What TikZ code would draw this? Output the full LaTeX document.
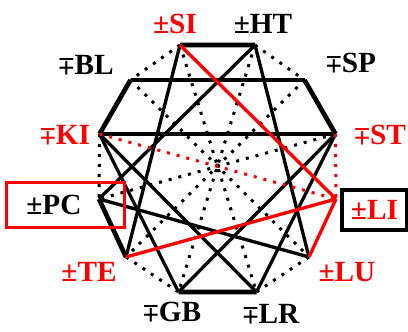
\documentclass[tikz,border=0pt]{standalone}
\usepackage{fontspec}
\setmainfont{Liberation Serif}
\usepackage{graphicx}
\newcommand{\mpsgn}{\raisebox{\depth}{\scalebox{1}[-1]{±}}}

\begin{document}
\begin{tikzpicture}[
  x=0.3mm, y=-0.3mm,
  lbl/.style={
    font=\fontsize{25}{28}\selectfont\bfseries,
    inner sep=0pt},
  redlbl/.style={lbl, text=red},
  pair/.style={line width=1.4mm},
  chord/.style={line width=1.0mm},
  link/.style={
    line width=0.9mm,
    dash pattern=on 0.9mm off 2.1mm},
  hilite/.style={chord, red},
  hidot/.style={link, red}
]
\useasboundingbox (0,0) rectangle (408,331);

% meridian points
\coordinate (SI) at (180,45);
\coordinate (HT) at (255,45);
\coordinate (SP) at (304.5,80);
\coordinate (ST) at (335.5,134);
\coordinate (LI) at (336,199);
\coordinate (LU) at (309,257);
\coordinate (LR) at (256.5,292);
\coordinate (GB) at (178.5,292);
\coordinate (TE) at (126,257);
\coordinate (PC) at (99,199);
\coordinate (KI) at (99.5,134);
\coordinate (BL) at (130.5,80);

% dotted links
\draw[link] (SI) -- (BL) (HT) -- (SP)
  (KI) -- (PC) (TE) -- (GB) (LU) -- (LR);
\draw[link] (SI) -- (LR) (HT) -- (GB)
  (SP) -- (TE) (BL) -- (LU) (ST) -- (PC);

% solid chords
\draw[chord] (SI) -- (TE) (HT) -- (LU);
\draw[chord] (HT) -- (PC) (PC) -- (LU);
\draw[chord] (KI) -- (LR) (ST) -- (GB);
\draw[chord] (KI) -- (GB) (ST) -- (LR);

% paired sides
\draw[pair] (SI) -- (HT) (BL) -- (KI)
  (SP) -- (ST) (PC) -- (TE) (GB) -- (LR);
\draw[pair] (BL) -- (SP) (KI) -- (ST);

% LI in red
\draw[hidot] (ST) -- (LI) (KI) -- (LI);
\draw[hilite] (SI) -- (LI) (TE) -- (LI)
  (LU) -- (LI);

% labels
\node[redlbl] (lSI) at (175,24) {±SI};
\node[lbl] (lHT) at (263,24) {±HT};
\node[lbl] (lSP) at (351,63) {\mpsgn SP};
\node[redlbl] (lST) at (380,135)
  {\mpsgn ST};
\node[redlbl, draw=black, line width=1mm,
  minimum width=19.5mm,
  minimum height=12mm] (lLI)
  at (374.5,210) {±LI};
\node[redlbl] (lLU) at (347,272) {±LU};
\node[lbl] (lLR) at (271,314) {\mpsgn LR};
\node[lbl] (lGB) at (172,312) {\mpsgn GB};
\node[redlbl] (lTE) at (89,272) {±TE};
\node[lbl, draw=red, line width=0.9mm,
  minimum width=35.1mm,
  minimum height=13.5mm,
  inner xsep=5.8mm, text width=23.5mm,
  align=left] (lPC)
  at (65.5,204.5) {±PC};
\node[redlbl] (lKI) at (65,135) {\mpsgn KI};
\node[lbl] (lBL) at (86,65) {\mpsgn BL};

\end{tikzpicture}
\end{document}
